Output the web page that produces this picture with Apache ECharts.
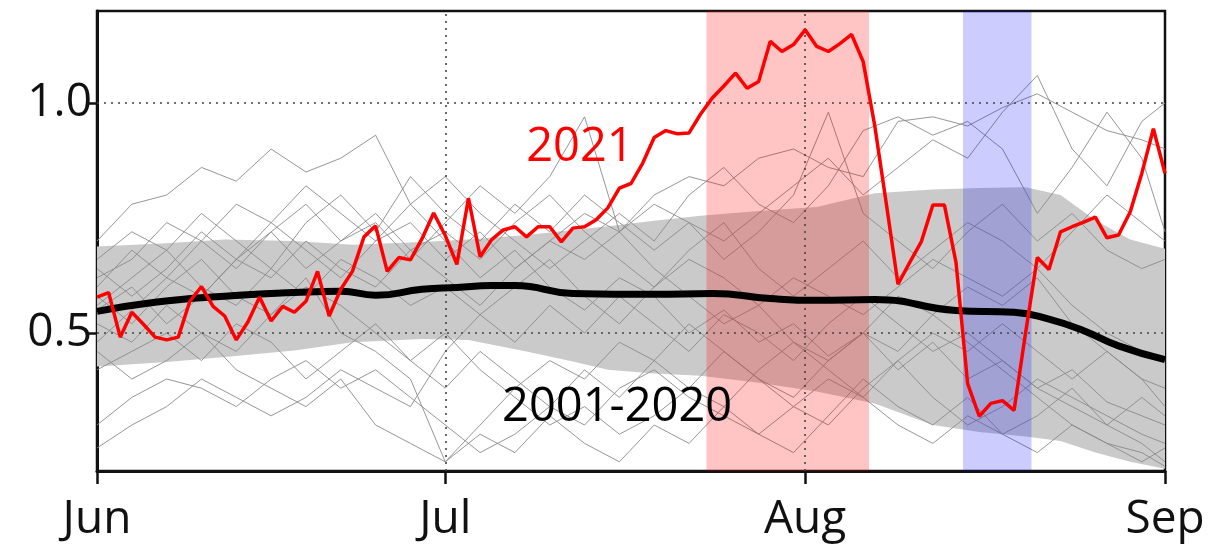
<!DOCTYPE html>
<html>
<head>
<meta charset="utf-8">
<title>2021 vs 2001-2020</title>
<script src="https://cdn.jsdelivr.net/npm/echarts@6/dist/echarts.min.js"></script>
<style>html,body{margin:0;padding:0;background:#fff;}</style>
</head>
<body>
<div id="main" style="width:1216px;height:555px;"></div>
<script>
// x axis = days since 1 June (Jun 1 .. Sep 1)
var monthTicks = [0, 30, 61, 92];
var monthNames = ['Jun', 'Jul', 'Aug', 'Sep'];
var yTicks = [0.5, 1.0];

// 2021, one value per day (day 0 = Jun 1)
var red2021 = [
  0.578, 0.588, 0.491, 0.545, 0.519, 0.491, 0.485, 0.491, 0.569, 0.601,
  0.558, 0.537, 0.485, 0.524, 0.578, 0.526, 0.558, 0.545, 0.569, 0.634,
  0.537, 0.595, 0.634, 0.709, 0.733, 0.634, 0.664, 0.659, 0.705, 0.761,
  0.712, 0.649, 0.793, 0.666, 0.703, 0.724, 0.731, 0.709, 0.731, 0.731,
  0.698, 0.728, 0.731, 0.746, 0.772, 0.815, 0.825, 0.869, 0.925, 0.940,
  0.933, 0.935, 0.976, 1.011, 1.037, 1.065, 1.032, 1.047, 1.134, 1.112,
  1.127, 1.159, 1.123, 1.112, 1.129, 1.149, 1.090, 0.950, 0.780, 0.606,
  0.653, 0.698, 0.778, 0.778, 0.653, 0.390, 0.319, 0.347, 0.353, 0.332,
  0.502, 0.664, 0.638, 0.720, 0.731, 0.741, 0.752, 0.707, 0.713, 0.763,
  0.847, 0.944, 0.847
];

// 2001-2020 mean
var meanDays = [0, 5, 11, 17, 21, 24, 28, 31, 34, 36, 41, 48, 53, 58, 62, 67, 74, 79, 82, 85, 88, 92];
var meanVals = [0.547, 0.567, 0.580, 0.588, 0.591, 0.582, 0.595, 0.599, 0.603, 0.603, 0.586,
                0.584, 0.586, 0.575, 0.571, 0.573, 0.549, 0.545, 0.530, 0.505, 0.472, 0.442];

// 2001-2020 spread band
var bandDays = [0, 6, 11, 17, 22, 28, 32, 37, 41, 44, 48, 52, 57, 62, 67, 72, 76, 80, 83, 86, 89, 92];
var bandLow  = [0.427, 0.437, 0.448, 0.462, 0.480, 0.487, 0.485, 0.460, 0.438, 0.420, 0.412,
                0.407, 0.392, 0.373, 0.347, 0.300, 0.285, 0.275, 0.265, 0.240, 0.220, 0.205];
var bandHigh = [0.688, 0.695, 0.703, 0.700, 0.692, 0.698, 0.703, 0.713, 0.724, 0.732, 0.744,
                0.755, 0.765, 0.774, 0.804, 0.812, 0.815, 0.817, 0.800, 0.745, 0.703, 0.683];

// individual years (thin grey), sampled every 3 days
var yearDays = [0, 3, 6, 9, 12, 15, 18, 21, 24, 27, 30, 33, 36, 39, 42, 45, 48, 51, 54, 57, 60, 63, 66, 69, 72, 75, 78, 81, 84, 87, 90, 92];
var yearA = [0.70,0.78,0.80,0.86,0.83,0.90,0.85,0.88,0.93,0.78,0.70,0.62,0.68,0.60,0.55,0.62,0.58,0.50,0.55,0.48,0.52,0.45,0.50,0.42,0.48,0.40,0.44,0.38,0.42,0.35,0.32,0.30];
var yearB = [0.62,0.66,0.74,0.70,0.78,0.74,0.82,0.76,0.70,0.74,0.66,0.72,0.64,0.70,0.76,0.72,0.80,0.84,0.82,0.88,0.90,0.86,0.84,0.96,0.97,0.95,0.99,1.02,0.98,0.94,0.92,0.90];
var yearC = [0.55,0.60,0.52,0.58,0.66,0.62,0.70,0.64,0.60,0.68,0.62,0.56,0.64,0.70,0.66,0.72,0.78,0.74,0.70,0.76,0.82,0.88,0.80,0.86,0.92,0.88,0.98,1.06,0.90,0.82,0.96,1.00];
var yearD = [0.48,0.55,0.62,0.58,0.66,0.72,0.64,0.70,0.74,0.66,0.74,0.82,0.76,0.84,0.97,0.72,0.64,0.58,0.52,0.56,0.48,0.44,0.50,0.46,0.54,0.60,0.56,0.62,0.52,0.46,0.40,0.38];
var yearE = [0.30,0.36,0.40,0.38,0.34,0.40,0.44,0.38,0.42,0.36,0.30,0.24,0.28,0.34,0.30,0.38,0.42,0.36,0.32,0.28,0.34,0.40,0.36,0.30,0.26,0.32,0.28,0.24,0.30,0.26,0.22,0.25];
var yearF = [0.58,0.52,0.60,0.66,0.58,0.54,0.62,0.50,0.46,0.40,0.22,0.30,0.38,0.44,0.40,0.48,0.44,0.52,0.46,0.40,0.36,0.44,0.50,0.58,0.54,0.48,0.42,0.36,0.30,0.26,0.24,0.21];
var yearG = [0.66,0.72,0.68,0.76,0.70,0.64,0.74,0.80,0.72,0.84,0.76,0.70,0.78,0.72,0.80,0.74,0.68,0.74,0.66,0.72,0.80,0.98,0.76,0.70,0.64,0.72,0.78,0.70,0.76,0.68,0.64,0.66];
var yearH = [0.42,0.46,0.50,0.44,0.52,0.48,0.40,0.46,0.52,0.44,0.38,0.46,0.40,0.34,0.42,0.36,0.44,0.38,0.46,0.40,0.34,0.30,0.38,0.44,0.36,0.30,0.34,0.40,0.36,0.32,0.28,0.26];
var yearI = [0.56,0.62,0.68,0.60,0.56,0.64,0.58,0.66,0.62,0.56,0.60,0.54,0.60,0.66,0.58,0.52,0.60,0.66,0.62,0.56,0.62,0.58,0.54,0.60,0.66,0.62,0.58,0.64,0.56,0.50,0.46,0.44];
var yearJ = [0.25,0.30,0.34,0.40,0.36,0.32,0.36,0.42,0.38,0.34,0.46,0.54,0.48,0.56,0.50,0.58,0.52,0.46,0.54,0.50,0.44,0.52,0.58,0.52,0.46,0.50,0.44,0.38,0.34,0.30,0.36,0.32];
var yearK = [0.64,0.58,0.64,0.72,0.66,0.74,0.68,0.62,0.70,0.78,0.84,0.76,0.70,0.64,0.70,0.76,0.70,0.80,0.86,0.78,0.74,0.82,0.94,0.97,0.93,0.96,0.90,0.76,0.86,0.98,0.88,0.72];
var yearL = [0.52,0.48,0.56,0.50,0.46,0.54,0.60,0.56,0.50,0.44,0.50,0.42,0.36,0.30,0.34,0.28,0.32,0.38,0.34,0.42,0.48,0.42,0.36,0.44,0.50,0.46,0.52,0.46,0.40,0.46,0.40,0.34];
var yearM = [0.46,0.40,0.44,0.50,0.42,0.38,0.34,0.40,0.30,0.26,0.22,0.28,0.24,0.32,0.26,0.22,0.30,0.26,0.34,0.28,0.24,0.32,0.40,0.34,0.30,0.36,0.28,0.32,0.38,0.30,0.26,0.22];
var yearN = [0.60,0.68,0.62,0.70,0.64,0.72,0.78,0.70,0.76,0.68,0.72,0.66,0.74,0.80,0.72,0.66,0.60,0.68,0.74,0.64,0.58,0.64,0.70,0.62,0.68,0.74,0.70,0.64,0.72,0.80,0.74,0.70];
var years = [yearA, yearB, yearC, yearD, yearE, yearF, yearG, yearH, yearI, yearJ, yearK, yearL, yearM, yearN];

// highlighted periods (days)
var hotPeriod = [52.5, 66.5];
var coldPeriod = [74.6, 80.5];

var FONT = 'Open Sans';
var chart = echarts.init(document.getElementById('main'));

function pairs(xs, ys) {
  return xs.map(function (x, i) { return [x, ys[i]]; });
}

var series = [];

// grey band
series.push({
  type: 'custom',
  z: 1,
  silent: true,
  clip: true,
  data: [[0, 0]],
  renderItem: function (params, api) {
    var pts = [];
    for (var i = 0; i < bandDays.length; i++) pts.push(api.coord([bandDays[i], bandHigh[i]]));
    for (var j = bandDays.length - 1; j >= 0; j--) pts.push(api.coord([bandDays[j], bandLow[j]]));
    return {
      type: 'polygon',
      shape: { points: pts },
      style: { fill: '#cacaca' }
    };
  }
});

// each year
years.forEach(function (vals) {
  series.push({
    type: 'line',
    z: 2,
    silent: true,
    symbol: 'none',
    data: pairs(yearDays, vals),
    lineStyle: { color: '#8a8a8a', width: 0.9 }
  });
});

// shaded periods + dotted grid lines
series.push({
  type: 'line',
  z: 3,
  silent: true,
  data: [],
  markArea: {
    z: 2.5,
    silent: true,
    data: [
      [{ xAxis: hotPeriod[0], itemStyle: { color: 'rgba(255,0,0,0.23)' } }, { xAxis: hotPeriod[1] }],
      [{ xAxis: coldPeriod[0], itemStyle: { color: 'rgba(0,0,255,0.2)' } }, { xAxis: coldPeriod[1] }]
    ]
  },
  markLine: {
    z: 3,
    silent: true,
    symbol: ['none', 'none'],
    label: { show: false },
    lineStyle: { color: '#444', type: [2, 5], width: 1.6 },
    data: [{ yAxis: yTicks[0] }, { yAxis: yTicks[1] }, { xAxis: monthTicks[1] }, { xAxis: monthTicks[2] }]
  }
});

// mean
series.push({
  type: 'line',
  z: 4,
  symbol: 'none',
  smooth: true,
  data: pairs(meanDays, meanVals),
  lineStyle: { color: '#000', width: 7 },
  markPoint: {
    symbol: 'circle',
    symbolSize: 0,
    label: { show: true, position: 'inside', formatter: '2001-2020', color: '#000', fontSize: 47, fontFamily: FONT },
    data: [{ coord: [44.8, 0.338] }]
  }
});

// 2021
series.push({
  type: 'line',
  z: 5,
  symbol: 'none',
  data: red2021.map(function (v, i) { return [i, v]; }),
  lineStyle: { color: '#ff0000', width: 3.5 },
  markPoint: {
    symbol: 'circle',
    symbolSize: 0,
    label: { show: true, position: 'inside', formatter: '2021', color: '#ff0000', fontSize: 47, fontFamily: FONT },
    data: [{ coord: [41.6, 0.903] }]
  }
});

var option = {
  animation: false,
  backgroundColor: '#fff',
  grid: { left: 97, right: 51, top: 11, bottom: 84, show: true, borderColor: '#111', borderWidth: 2.5 },
  xAxis: {
    type: 'value',
    min: 0,
    max: 92,
    axisLine: { show: true, lineStyle: { color: '#111', width: 3 } },
    axisTick: { show: true, customValues: monthTicks, length: 13, lineStyle: { color: '#111', width: 2.5 } },
    axisLabel: {
      customValues: monthTicks,
      margin: 26,
      fontSize: 46,
      fontFamily: FONT,
      color: '#111',
      formatter: function (v) { return monthNames[monthTicks.indexOf(v)] || ''; }
    },
    splitLine: { show: false }
  },
  yAxis: {
    type: 'value',
    min: 0.2,
    max: 1.2,
    axisLine: { show: true, lineStyle: { color: '#111', width: 3 } },
    axisTick: { show: true, customValues: yTicks, length: 8, lineStyle: { color: '#111', width: 2.5 } },
    axisLabel: {
      customValues: yTicks,
      margin: 5,
      fontSize: 46,
      fontFamily: FONT,
      color: '#111',
      formatter: function (v) { return v.toFixed(1); }
    },
    splitLine: { show: false }
  },
  series: series
};

chart.setOption(option);
</script>
</body>
</html>
